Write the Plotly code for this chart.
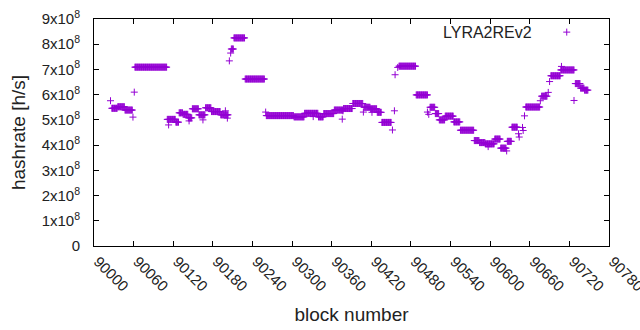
import plotly.graph_objects as go

BASE_BLOCK = 90000
SERIES_NAME = "LYRA2REv2"

# Runs of consecutive blocks sharing the same hashrate (block offset from 90000, inclusive; value in units of 1e8 h/s)
run_start = [27, 36, 47, 62, 111, 124, 129, 135, 143, 149, 159, 169, 178, 192, 208, 212, 229,
             261, 303, 319, 340, 348, 364, 378, 392, 409, 419, 429, 436, 462, 488, 509, 517,
             523, 532, 545, 555, 576, 584, 593, 607, 616, 626, 633, 654, 678, 692, 707, 729,
             737, 743]
run_end = [35, 46, 58, 110, 123, 128, 134, 142, 148, 158, 168, 177, 191, 203, 211, 228, 258,
           302, 318, 339, 347, 363, 377, 391, 407, 418, 428, 435, 450, 487, 505, 516, 522,
           531, 544, 554, 575, 583, 592, 606, 615, 624, 632, 641, 675, 686, 706, 727, 736,
           742, 748]
run_value = [5.46, 5.52, 5.39, 7.09, 5.02, 4.91, 5.28, 5.22, 5.08, 5.44, 5.20, 5.48, 5.33,
             5.20, 7.81, 8.25, 6.62, 5.17, 5.12, 5.26, 5.12, 5.25, 5.39, 5.45, 5.65, 5.50,
             5.44, 5.30, 4.90, 7.13, 5.99, 5.50, 5.25, 5.00, 5.15, 4.92, 4.59, 4.18, 4.10,
             4.05, 4.24, 3.88, 4.15, 4.71, 5.51, 5.94, 6.75, 6.98, 6.44, 6.26, 6.18]

# Isolated blocks (block offset, value in 1e8 h/s)
single_block = [25, 59, 61, 113, 144, 165, 199, 202, 205, 207, 260, 332, 376, 377, 408, 421,
                452, 455, 456, 460, 505, 507, 597, 625, 643, 644, 649, 650, 652, 676, 688,
                690, 708, 727]
single_value = [5.76, 5.11, 6.10, 4.80, 4.96, 5.00, 5.36, 5.07, 7.34, 7.65, 5.31, 5.13, 5.03,
                5.36, 5.31, 5.30, 4.60, 5.36, 6.79, 7.08, 5.31, 5.22, 3.94, 3.77, 4.45, 4.32,
                4.70, 4.58, 5.16, 5.76, 6.09, 6.52, 7.12, 5.77]

x_ticks = [90000, 90060, 90120, 90180, 90240, 90300, 90360, 90420, 90480, 90540, 90600,
           90660, 90720, 90780]
y_tick_exp = [0, 1, 2, 3, 4, 5, 6, 7, 8, 9]

# key (legend) placement, in axis units
key_text_x, key_sample_x, key_y = 90667, 90716, 8.48e8

xs, ys = [], []
for s, e, v in zip(run_start, run_end, run_value):
    for b in range(s, e + 1):
        xs.append(BASE_BLOCK + b)
        ys.append(v * 1e8)
for b, v in zip(single_block, single_value):
    xs.append(BASE_BLOCK + b)
    ys.append(v * 1e8)

COLOR = "#9400D3"
FONT = dict(family="Liberation Sans, Arial, sans-serif", size=16, color="#222222")
TICKFONT = dict(family="Liberation Sans, Arial, sans-serif", size=15, color="#222222")
marker = dict(symbol="cross-thin", size=5, color=COLOR, line=dict(color=COLOR, width=1))

fig = go.Figure()
fig.add_trace(go.Scatter(x=xs, y=ys, mode="markers", marker=marker, name=SERIES_NAME,
                         showlegend=False, hoverinfo="x+y"))
# key sample (gnuplot style: text then symbol)
fig.add_trace(go.Scatter(x=[key_sample_x], y=[key_y], mode="markers", marker=marker,
                         showlegend=False, hoverinfo="skip"))

y_text = ["0"] + [f"{k}x10<sup>8</sup>" for k in y_tick_exp[1:]]

fig.update_layout(
    width=640, height=330,
    margin=dict(l=94, r=31, t=19, b=84, autoexpand=False),
    paper_bgcolor="white", plot_bgcolor="white",
    font=FONT,
    showlegend=False,
    xaxis=dict(range=[90000, 90780], tickvals=x_ticks, ticktext=[str(t) for t in x_ticks],
               tickangle=45, ticks="inside", ticklen=5, tickcolor="black",
               ticklabeloverflow="allow", automargin=False, ticklabelshift=4,
               showline=True, linecolor="black", linewidth=1, mirror="ticks",
               showgrid=False, zeroline=False,
               title=dict(text="block number", standoff=14), tickfont=TICKFONT),
    yaxis=dict(range=[0, 9e8], tickvals=[k * 1e8 for k in y_tick_exp], ticktext=y_text,
               ticks="inside", ticklen=5, tickcolor="black", ticklabelstandoff=10,
               ticklabeloverflow="allow", automargin=False,
               showline=True, linecolor="black", linewidth=1, mirror="ticks",
               showgrid=False, zeroline=False,
               title=dict(text="hashrate [h/s]", standoff=10), tickfont=TICKFONT),
    annotations=[dict(text=SERIES_NAME, xref="x", yref="y", x=key_text_x, y=key_y,
                      xanchor="right", yanchor="middle", showarrow=False, font=FONT)],
)

fig.write_html("out.html", config={"displayModeBar": False},
               post_script="document.body.style.margin='0';document.body.style.overflow='hidden';")
